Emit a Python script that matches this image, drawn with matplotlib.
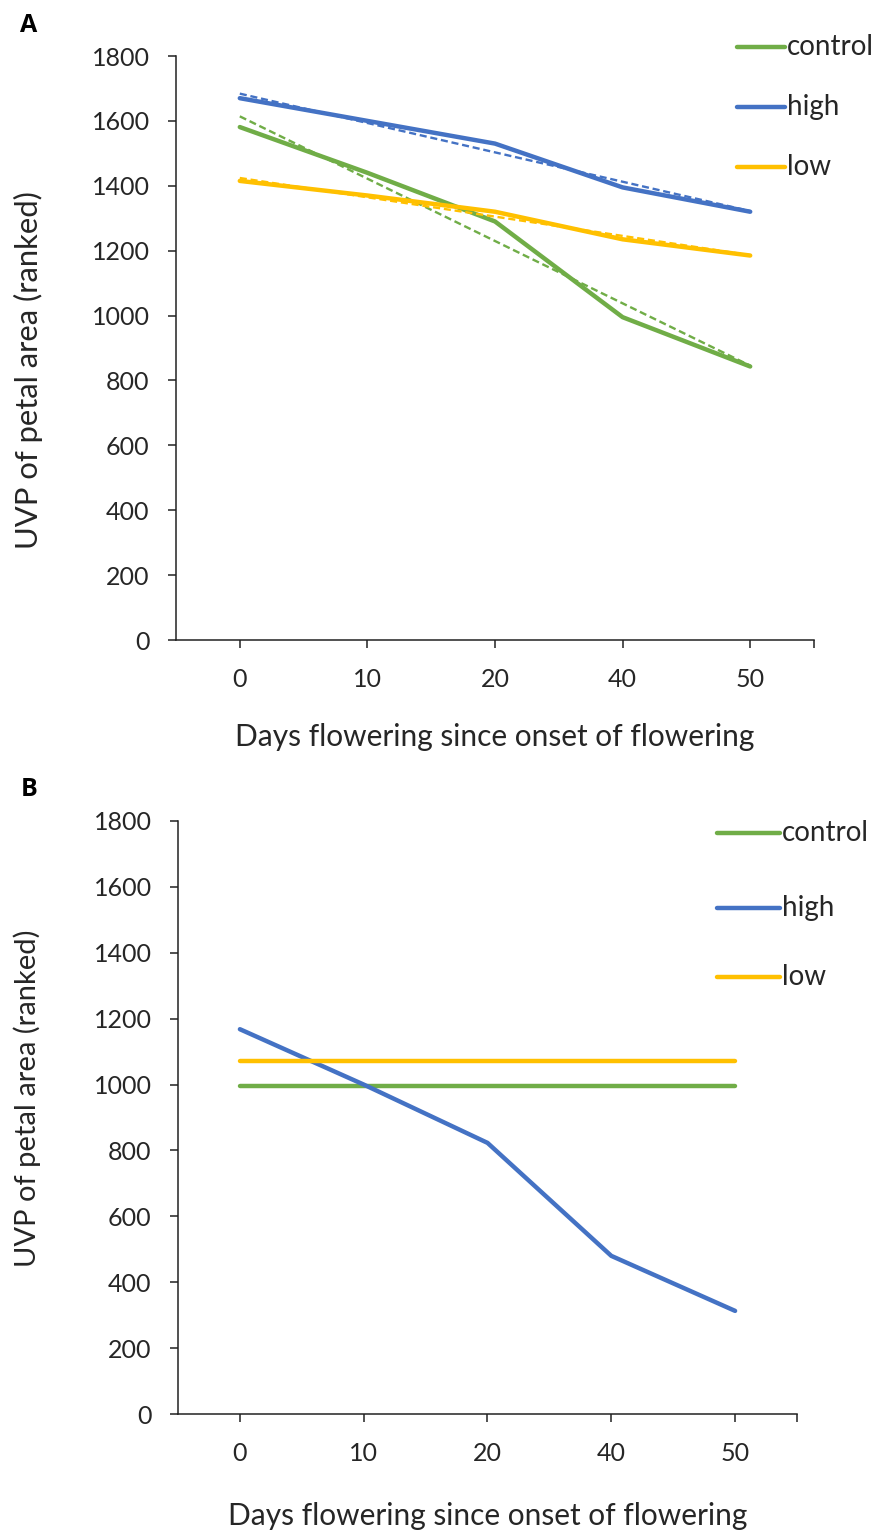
import numpy as np
import matplotlib
matplotlib.use("Agg")
import matplotlib.pyplot as plt

plt.rcParams['font.family'] = ['Lato', 'DejaVu Sans']

days = ["0", "10", "20", "40", "50"]
series_names = ["control", "high", "low"]
colors = {"control": "#70AD47", "high": "#4472C4", "low": "#FFC000"}

# Panel A values
a_control = [1581, 1440, 1290, 995, 843]
a_high = [1670, 1600, 1530, 1395, 1320]
a_low = [1415, 1370, 1320, 1235, 1185]

# Panel B values
b_control = [995, 995, 995, 995, 995]
b_high = [1168, 1000, 823, 480, 313]
b_low = [1070, 1070, 1070, 1070, 1070]

yticks = [0, 200, 400, 600, 800, 1000, 1200, 1400, 1600, 1800]

W, H = 882, 1530
fig = plt.figure(figsize=(W / 100, H / 100), dpi=100)
TXT = "#262626"


def make_axes(left, right, top, bottom):
    return fig.add_axes([left / W, 1 - bottom / H, (right - left) / W, (bottom - top) / H])


def style(ax, xlabel_pad, ylabel_size, ylab_xy):
    x = np.arange(len(days))
    ax.set_xlim(-0.5, 4.5)
    ax.set_ylim(0, 1800)
    ax.set_yticks(yticks)
    ax.set_yticklabels([str(v) for v in yticks], fontsize=18, color=TXT)
    ax.set_xticks(list(x) + [4.5])
    ax.set_xticklabels(days + [""], fontsize=18, color=TXT)
    ax.spines['top'].set_visible(False)
    ax.spines['right'].set_visible(False)
    for s in ['left', 'bottom']:
        ax.spines[s].set_linewidth(1.1)
        ax.spines[s].set_color("#222222")
    ax.tick_params(axis='y', length=6, width=1.1, pad=13, color="#222222")
    ax.tick_params(axis='x', length=6, width=1.1, pad=14.5, color="#222222")
    ax.set_ylabel("UVP of petal area (ranked)", fontsize=ylabel_size, color=TXT)
    ax.yaxis.set_label_coords(*ylab_xy)
    ax.set_xlabel("Days flowering since onset of flowering", fontsize=21.5, color=TXT, labelpad=xlabel_pad)


def legend(ys_px, x0, x1):
    for name, ypx in zip(series_names, ys_px):
        yf = 1 - ypx / H
        fig.add_artist(plt.Line2D([x0 / W, x1 / W], [yf, yf], color=colors[name], lw=3.2, solid_capstyle='round'))
        fig.text((x1 + 2) / W, yf, name, fontsize=20, color=TXT, va='center', ha='left')


# Panel A
axA = make_axes(176, 814, 56, 640)
x = np.arange(len(days))
for name, vals in zip(series_names, [a_control, a_high, a_low]):
    axA.plot(x, vals, color=colors[name], lw=3.2, solid_capstyle='round', solid_joinstyle='round')
    coef = np.polyfit(x, vals, 1)
    axA.plot(x, np.polyval(coef, x), color=colors[name], lw=1.7, ls=(0, (3, 1.6)))
style(axA, 23, 22.3, ((43 - 176) / 638, (640 - 370) / 584))
legend([47, 107, 167], 737, 785)
fig.text(20 / W, 1 - 26 / H, "A", fontsize=18, fontweight='bold', family='Open Sans', ha='left', va='center')

# Panel B
axB = make_axes(178, 797, 821, 1414)
for name, vals in zip(series_names, [b_control, b_high, b_low]):
    axB.plot(x, vals, color=colors[name], lw=3.2, solid_capstyle='round', solid_joinstyle='round')
style(axB, 26, 21, ((41 - 178) / 619, (1414 - 1098) / 593))
legend([833, 908, 977], 717, 780)
fig.text(21 / W, 1 - 789 / H, "B", fontsize=18, fontweight='bold', family='Open Sans', ha='left', va='center')

fig.savefig("out.png", dpi=100, facecolor="white")
